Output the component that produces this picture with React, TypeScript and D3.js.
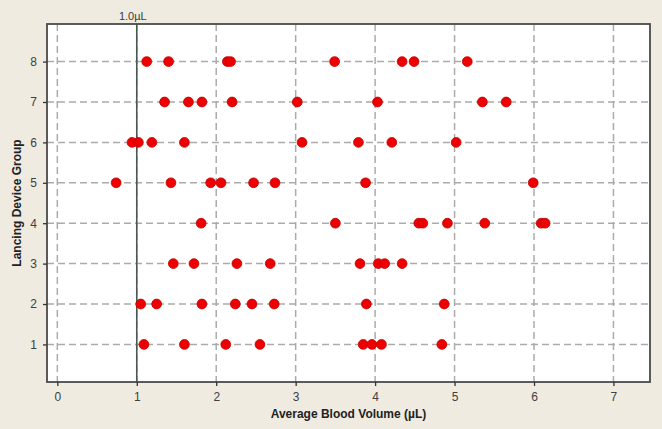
import { useEffect, useRef } from "react";
import * as d3 from "d3";

// Average blood volume (µL) per lancing device group
const groups = [1, 2, 3, 4, 5, 6, 7, 8];
const group1 = [1.09, 1.6, 2.12, 2.55, 3.85, 3.96, 4.08, 4.84];
const group2 = [1.05, 1.25, 1.82, 2.24, 2.45, 2.73, 3.89, 4.87];
const group3 = [1.46, 1.72, 2.26, 2.68, 3.81, 4.04, 4.12, 4.34];
const group4 = [1.81, 3.5, 4.55, 4.6, 4.91, 5.38, 6.09, 6.14];
const group5 = [0.74, 1.43, 1.93, 2.06, 2.47, 2.74, 3.88, 5.99];
const group6 = [0.94, 1.02, 1.19, 1.6, 3.08, 3.79, 4.21, 5.02];
const group7 = [1.35, 1.65, 1.82, 2.2, 3.02, 4.03, 5.35, 5.65];
const group8 = [1.125, 1.4, 2.14, 2.18, 3.49, 4.34, 4.49, 5.16];
const xTicks = [0, 1, 2, 3, 4, 5, 6, 7];
const threshold = 1.0;

export default function App() {
  const ref = useRef<SVGSVGElement>(null);

  useEffect(() => {
    const el = ref.current;
    if (!el) return;
    const W = 662;
    const H = 429;
    const M = { top: 24, right: 12, bottom: 47, left: 47 };

    d3.select(el).selectAll("*").remove();
    const svg = d3.select(el).attr("viewBox", `0 0 ${W} ${H}`);

    const table = [group1, group2, group3, group4, group5, group6, group7, group8]
      .flatMap((vals, i) => vals.map((v) => ({ g: groups[i], v })));

    const x = d3.scaleLinear().domain([-0.13, 7.46]).range([M.left, W - M.right]);
    const y = d3.scaleLinear().domain([0.07, 8.93]).range([H - M.bottom, M.top]);

    svg.append("rect").attr("width", W).attr("height", H).attr("fill", "#efebe1");

    // plot area
    svg.append("rect")
      .attr("x", M.left).attr("y", M.top)
      .attr("width", W - M.left - M.right).attr("height", H - M.top - M.bottom)
      .attr("fill", "#fff");

    // grid
    svg.append("g").selectAll("line").data(xTicks).join("line")
      .attr("x1", (d) => x(d)).attr("x2", (d) => x(d))
      .attr("y1", M.top).attr("y2", H - M.bottom)
      .attr("stroke", "#ababab").attr("stroke-width", 1.5).attr("stroke-dasharray", "7,4");
    svg.append("g").selectAll("line").data(groups).join("line")
      .attr("x1", M.left).attr("x2", W - M.right)
      .attr("y1", (d) => y(d)).attr("y2", (d) => y(d))
      .attr("stroke", "#ababab").attr("stroke-width", 1.5).attr("stroke-dasharray", "7,4");

    // 1.0 µL reference line
    svg.append("line")
      .attr("x1", x(threshold)).attr("x2", x(threshold))
      .attr("y1", M.top).attr("y2", H - M.bottom)
      .attr("stroke", "#4a5950").attr("stroke-width", 1.6);
    svg.append("text")
      .attr("x", x(threshold) - 4).attr("y", 20)
      .attr("text-anchor", "middle")
      .attr("fill", "#3a3a3a")
      .style("font-family", "'Liberation Sans', Arial, sans-serif")
      .style("font-size", "11px")
      .text("1.0µL");

    // points
    svg.append("g").selectAll("circle").data(table).join("circle")
      .attr("cx", (d) => x(d.v)).attr("cy", (d) => y(d.g))
      .attr("r", 4.9)
      .attr("fill", "#ee0000").attr("stroke", "#c00000").attr("stroke-width", 0.8);

    // frame
    svg.append("rect")
      .attr("x", M.left).attr("y", M.top)
      .attr("width", W - M.left - M.right).attr("height", H - M.top - M.bottom)
      .attr("fill", "none").attr("stroke", "#4a4a4a").attr("stroke-width", 1.8);

    const styleAxis = (g: any) => {
      g.select(".domain").remove();
      g.selectAll(".tick line").attr("stroke", "#333").attr("stroke-width", 1.3);
      g.selectAll(".tick text")
        .attr("fill", "#404040")
        .style("font-family", "'Liberation Sans', Arial, sans-serif")
        .style("font-size", "12px");
    };

    svg.append("g")
      .attr("transform", `translate(0,${H - M.bottom})`)
      .call(d3.axisBottom(x).tickValues(xTicks).tickSize(4).tickPadding(6).tickFormat(d3.format("d")))
      .call(styleAxis);

    svg.append("g")
      .attr("transform", `translate(${M.left},0)`)
      .call(d3.axisLeft(y).tickValues(groups).tickSize(4).tickPadding(6).tickFormat(d3.format("d")))
      .call(styleAxis);

    // titles
    svg.append("text")
      .attr("x", (M.left + W - M.right) / 2).attr("y", 418)
      .attr("text-anchor", "middle").attr("fill", "#222")
      .style("font-family", "'Liberation Sans', Arial, sans-serif")
      .style("font-size", "12px").style("font-weight", "bold")
      .text("Average Blood Volume (µL)");

    svg.append("text")
      .attr("transform", `translate(21,${(M.top + H - M.bottom) / 2}) rotate(-90)`)
      .attr("text-anchor", "middle").attr("fill", "#222")
      .style("font-family", "'Liberation Sans', Arial, sans-serif")
      .style("font-size", "12px").style("font-weight", "bold")
      .text("Lancing Device Group");
  }, []);

  return (
    <svg
      ref={ref}
      width={662}
      height={429}
      style={{ position: "absolute", left: 0, top: 0, display: "block" }}
    />
  );
}
